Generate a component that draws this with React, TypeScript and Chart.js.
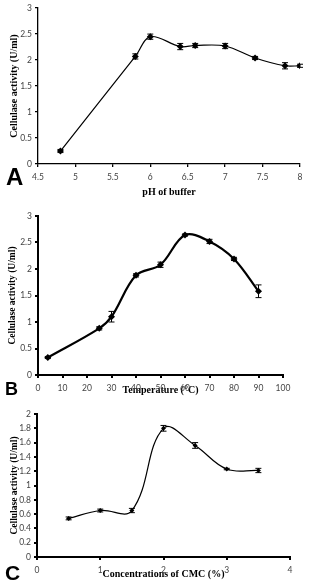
import React, { useEffect, useRef } from "react";
import { Chart, registerables } from "chart.js";

Chart.register(...registerables);

// Panel A: effect of buffer pH
const phValues = [4.8, 5.8, 6, 6.4, 6.6, 7, 7.4, 7.8, 8];
const phActivity = [0.25, 2.07, 2.45, 2.26, 2.28, 2.27, 2.04, 1.89, 1.89];
const phError = [0.03, 0.05, 0.05, 0.06, 0.04, 0.05, 0.03, 0.06, 0.03];

// Panel B: effect of temperature
const tempValues = [4, 25, 30, 40, 50, 60, 70, 80, 90];
const tempActivity = [0.33, 0.88, 1.1, 1.88, 2.08, 2.64, 2.52, 2.19, 1.58];
const tempError = [0.02, 0.03, 0.1, 0.03, 0.05, 0.02, 0.04, 0.03, 0.12];

// Panel C: effect of CMC concentration
const cmcValues = [0.5, 1, 1.5, 2, 2.5, 3, 3.5];
const cmcActivity = [0.54, 0.65, 0.65, 1.8, 1.56, 1.23, 1.21];
const cmcError = [0.02, 0.02, 0.03, 0.04, 0.04, 0.01, 0.03];

const yTitle = "Cellulase activity (U/ml)";
const TICK_FONT = { family: "Lato, 'Open Sans', sans-serif", size: 8.5 };
const TICK_COLOR = "#444";

// Plain number labels: "0", "0.5", "1" rather than fixed decimals
const plainTick = (v: any) => String(Number(Number(v).toFixed(2)));

// Draws vertical error bars with short caps at each point
const errorBarPlugin = {
  id: "errorBars",
  afterDatasetsDraw(chart: any, _args: any, opts: any) {
    const errs: number[] = opts.errors || [];
    const meta = chart.getDatasetMeta(0);
    const ys = chart.scales.y;
    const ctx = chart.ctx;
    const data = chart.data.datasets[0].data as any[];
    ctx.save();
    ctx.strokeStyle = "#000";
    ctx.lineWidth = opts.lineWidth || 1;
    meta.data.forEach((pt: any, i: number) => {
      const e = errs[i];
      if (!e) return;
      const v = data[i].y;
      const top = ys.getPixelForValue(v + e);
      const bot = ys.getPixelForValue(v - e);
      const cap = opts.cap || 3;
      ctx.beginPath();
      ctx.moveTo(pt.x, top);
      ctx.lineTo(pt.x, bot);
      ctx.moveTo(pt.x - cap, top);
      ctx.lineTo(pt.x + cap, top);
      ctx.moveTo(pt.x - cap, bot);
      ctx.lineTo(pt.x + cap, bot);
      ctx.stroke();
    });
    ctx.restore();
  },
};

type PanelProps = {
  top: number;
  height: number;
  xs: number[];
  ys: number[];
  errs: number[];
  xMin: number;
  xMax: number;
  xStep: number;
  yMax: number;
  yStep: number;
  xTitle: string;
  yTitleSize: number;
  lineWidth: number;
  axisWidth: number;
  pointStyle: string;
  pointRadius: number;
  padTop: number;
  padRight: number;
  yAxisWidth: number;
  xAxisHeight: number;
  yTitlePad: number;
  tension: number;
};

function Panel(p: PanelProps) {
  const ref = useRef<HTMLCanvasElement>(null);
  useEffect(() => {
    if (!ref.current) return;
    const axisGrid = {
      drawOnChartArea: false,
      drawTicks: true,
      tickLength: 3,
      color: "#000",
      lineWidth: p.axisWidth,
    };
    const chart = new Chart(ref.current, {
      type: "line",
      data: {
        datasets: [
          {
            data: p.xs.map((x, i) => ({ x, y: p.ys[i] })),
            borderColor: "#000",
            backgroundColor: "#000",
            borderWidth: p.lineWidth,
            pointStyle: p.pointStyle as any,
            pointRadius: p.pointRadius,
            pointBorderWidth: 0,
            tension: p.tension,
            fill: false,
          },
        ],
      },
      options: {
        responsive: false,
        animation: false,
        layout: { padding: { top: p.padTop, right: p.padRight, left: 0, bottom: 0 } },
        plugins: {
          legend: { display: false },
          tooltip: { enabled: false },
          errorBars: { errors: p.errs, cap: 3, lineWidth: 1 },
        } as any,
        scales: {
          x: {
            type: "linear",
            min: p.xMin,
            max: p.xMax,
            grid: axisGrid,
            border: { color: "#000", width: p.axisWidth },
            ticks: {
              stepSize: p.xStep,
              font: TICK_FONT,
              color: TICK_COLOR,
              padding: 5,
              maxRotation: 0,
              callback: plainTick,
            },
            title: {
              display: true,
              text: p.xTitle,
              font: { family: "'Liberation Serif', 'Times New Roman', serif", size: 10, weight: "bold" },
              color: "#000",
              padding: { top: 0, bottom: 2 },
            },
            afterFit: (s: any) => {
              s.height = p.xAxisHeight;
            },
          },
          y: {
            type: "linear",
            min: 0,
            max: p.yMax,
            grid: axisGrid,
            border: { color: "#000", width: p.axisWidth },
            ticks: { stepSize: p.yStep, font: TICK_FONT, color: TICK_COLOR, padding: 3, callback: plainTick },
            title: {
              display: true,
              text: yTitle,
              font: { family: "'Liberation Serif', 'Times New Roman', serif", size: p.yTitleSize, weight: "bold" },
              color: "#000",
              padding: { top: p.yTitlePad, bottom: 0 },
            },
            afterFit: (s: any) => {
              s.width = p.yAxisWidth;
            },
          },
        },
      },
      plugins: [errorBarPlugin],
    });
    return () => chart.destroy();
  }, []);
  return (
    <canvas
      ref={ref}
      width={313}
      height={p.height}
      style={{ position: "absolute", left: 0, top: p.top, width: 313, height: p.height }}
    />
  );
}

const letterStyle: React.CSSProperties = {
  position: "absolute",
  fontFamily: "'Liberation Sans', Arial, sans-serif",
  fontWeight: "bold",
  color: "#000",
  lineHeight: 1,
};

export default function App() {
  return (
    <div style={{ position: "absolute", left: 0, top: 0, width: 313, height: 582, background: "#fff", overflow: "hidden" }}>
      <Panel
        top={0}
        height={200}
        xs={phValues}
        ys={phActivity}
        errs={phError}
        xMin={4.5}
        xMax={8}
        xStep={0.5}
        yMax={3}
        yStep={0.5}
        xTitle="pH of buffer"
        yTitleSize={10}
        lineWidth={1.2}
        axisWidth={1.3}
        pointStyle="rectRot"
        pointRadius={3.5}
        padTop={4}
        padRight={13}
        yAxisWidth={38}
        xAxisHeight={36}
        yTitlePad={8}
        tension={0.35}
      />
      <Panel
        top={200}
        height={198}
        xs={tempValues}
        ys={tempActivity}
        errs={tempError}
        xMin={0}
        xMax={100}
        xStep={10}
        yMax={3}
        yStep={0.5}
        xTitle="Temperature (°C)"
        yTitleSize={9.5}
        lineWidth={2.2}
        axisWidth={2}
        pointStyle="rectRot"
        pointRadius={3.5}
        padTop={16}
        padRight={30}
        yAxisWidth={38}
        xAxisHeight={23}
        yTitlePad={7}
        tension={0.35}
      />
      <Panel
        top={398}
        height={184}
        xs={cmcValues}
        ys={cmcActivity}
        errs={cmcError}
        xMin={0}
        xMax={4}
        xStep={1}
        yMax={2}
        yStep={0.2}
        xTitle="Concentrations of CMC (%)"
        yTitleSize={9.5}
        lineWidth={1.2}
        axisWidth={2}
        pointStyle="rectRot"
        pointRadius={2.5}
        padTop={16}
        padRight={23}
        yAxisWidth={37}
        xAxisHeight={25}
        yTitlePad={9}
        tension={0.4}
      />
      <div style={{ ...letterStyle, left: 6, top: 165, fontSize: 24 }}>A</div>
      <div style={{ ...letterStyle, left: 5, top: 380, fontSize: 18 }}>B</div>
      <div style={{ ...letterStyle, left: 5, top: 562, fontSize: 21 }}>C</div>
    </div>
  );
}
